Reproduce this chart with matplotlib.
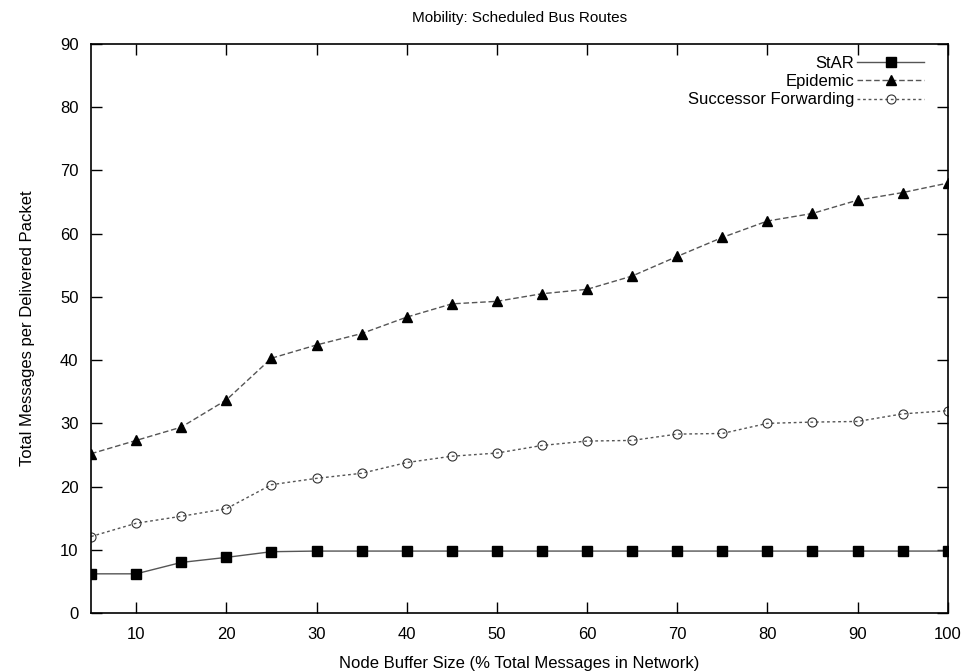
import numpy as np
import matplotlib.pyplot as plt

plt.rcParams['font.family'] = ['Liberation Sans', 'DejaVu Sans']

buffer_size = [5, 10, 15, 20, 25, 30, 35, 40, 45, 50, 55, 60, 65, 70, 75, 80, 85, 90, 95, 100]
star = [6.2, 6.2, 8.0, 8.8, 9.7, 9.8, 9.8, 9.8, 9.8, 9.8, 9.8, 9.8, 9.8, 9.8, 9.8, 9.8, 9.8, 9.8, 9.8, 9.8]
epidemic = [25.2, 27.3, 29.4, 33.7, 40.3, 42.4, 44.2, 46.8, 48.9, 49.3,
            50.5, 51.2, 53.3, 56.4, 59.4, 62.0, 63.2, 65.3, 66.5, 68.0]
successor = [12.1, 14.2, 15.3, 16.5, 20.3, 21.3, 22.1, 23.8, 24.8, 25.3,
             26.5, 27.2, 27.3, 28.3, 28.4, 30.0, 30.2, 30.3, 31.5, 32.0]

fig = plt.figure(figsize=(9.69, 6.71), dpi=100)
ax = fig.add_axes([0.094, 0.0864, 0.884, 0.848])

ax.plot(buffer_size, star, color='#555555', lw=1, marker='s', ms=6.5,
        mfc='black', mec='black', label='StAR')
ax.plot(buffer_size, epidemic, color='#555555', lw=1, ls=(0, (4, 2)), marker='^', ms=6.5,
        mfc='black', mec='black', label='Epidemic')
ax.plot(buffer_size, successor, color='#555555', lw=1, ls=(0, (2, 2)), marker='o', ms=6.5,
        mfc='none', mec='#333333', mew=0.8, label='Successor Forwarding')

ax.set_xlim(5, 100)
ax.set_ylim(0, 90)
ax.set_xticks([10, 20, 30, 40, 50, 60, 70, 80, 90, 100])
ax.set_yticks(np.arange(0, 91, 10))
ax.tick_params(direction='in', length=8, width=1, top=True, right=True, labelsize=12)
ax.tick_params(axis='x', pad=10)
ax.tick_params(axis='y', pad=9)
for s in ax.spines.values():
    s.set_linewidth(1.2)

ax.set_xlabel('Node Buffer Size (% Total Messages in Network)', fontsize=12, labelpad=10)
ax.set_ylabel('Total Messages per Delivered Packet', fontsize=12, labelpad=18)
ax.set_title('Mobility: Scheduled Bus Routes', fontsize=11, pad=16)

ax.legend(loc='upper right', bbox_to_anchor=(0.986, 1.0), frameon=False,
          markerfirst=False, fontsize=12, handlelength=4.0, handletextpad=0.2,
          labelspacing=0.2, borderaxespad=0.3)

plt.savefig('out.png')
